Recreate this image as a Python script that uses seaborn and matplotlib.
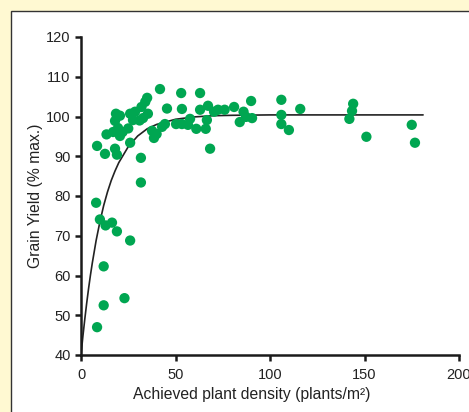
import numpy as np
import pandas as pd
import seaborn as sns
import matplotlib.pyplot as plt
from matplotlib.patches import Rectangle

# observed points (plants/m2, grain yield % max.)
density = [8.5, 12, 23, 12, 26, 19, 10, 13, 16.4, 8, 31.7, 31.7, 8.5, 12.7, 19, 18, 26,
           17, 20.6, 22, 19.6, 18, 20.6, 18.5, 27.5, 26, 28.6, 32, 34, 35, 35.4, 32.8,
           37.6, 38.6, 41.8, 42.9, 40, 44.4, 45.5, 50.3, 53, 53.4, 53.4, 56.6, 57.7, 61,
           63, 63, 67.2, 66.6, 66, 68.3, 70.4, 72.5, 76, 81, 84, 86, 87.3, 90, 90.5,
           106, 106, 106, 110, 116, 142, 143.4, 144, 151, 175, 176.7, 25, 31, 13.5]
yield_pct = [47.0, 52.5, 54.3, 62.3, 68.8, 71.1, 74.1, 72.6, 73.3, 78.3, 83.4, 89.6, 92.6,
             90.6, 90.4, 91.9, 93.4, 96.1, 95.1, 96.1, 97.1, 98.9, 100.2, 100.7, 99.1,
             100.7, 101.2, 102.4, 103.7, 104.7, 100.7, 99.6, 96.4, 94.6, 106.9, 97.4,
             95.6, 98.1, 102.0, 98.1, 105.9, 101.9, 98.1, 97.9, 99.4, 96.9, 105.9, 101.7,
             102.7, 99.1, 96.9, 91.9, 101.2, 101.7, 101.7, 102.4, 98.6, 101.2, 99.9, 103.9,
             99.6, 104.2, 100.4, 98.1, 96.6, 101.9, 99.4, 101.4, 103.2, 94.9, 97.9, 93.4,
             97.0, 99.0, 95.5]

# fitted response curve
curve_x = [0, 1, 2, 3, 4, 5, 6, 8, 10, 12, 14, 16, 18, 20, 25, 30, 35, 40, 50, 60, 70, 80,
           100, 140, 181]
curve_y = [40, 44.7, 49.0, 53.0, 56.7, 60.1, 63.2, 68.8, 73.5, 77.6, 81.0, 83.9, 86.3, 88.4,
           92.4, 95.1, 96.9, 98.0, 99.3, 99.9, 100.2, 100.3, 100.4, 100.4, 100.4]

pts = pd.DataFrame({'density': density, 'yield': yield_pct})
fit = pd.DataFrame({'density': curve_x, 'yield': curve_y})

sns.set_style('ticks')
plt.rcParams['font.family'] = ['Liberation Sans', 'DejaVu Sans']

fig = plt.figure(figsize=(4.69, 4.12), dpi=100)
fig.patch.set_facecolor('#FFF9D2')
# white panel with a dark edge on the left and top
fig.patches.append(Rectangle((11 / 469, -0.1), 1.2, 1.1 - 11 / 412, transform=fig.transFigure,
                             facecolor='white', edgecolor='#333333', linewidth=1.0, zorder=-5))
ax = fig.add_axes([81 / 469, 57 / 412, 378 / 469, 318 / 412])
ax.set_facecolor('none')

sns.lineplot(data=fit, x='density', y='yield', ax=ax, color='#222222', linewidth=1.2, zorder=2)
sns.scatterplot(data=pts, x='density', y='yield', ax=ax, color='#00A651', s=55,
                edgecolor='none', zorder=3, clip_on=False)

ax.set_xlim(0, 200)
ax.set_ylim(40, 120)
ax.set_xticks([0, 50, 100, 150, 200])
ax.set_yticks([40, 50, 60, 70, 80, 90, 100, 110, 120])
for s in ['top', 'right']:
    ax.spines[s].set_visible(False)
for s in ['left', 'bottom']:
    ax.spines[s].set_linewidth(1.8)
    ax.spines[s].set_color('#1a1a1a')
ax.tick_params(direction='out', length=4.5, width=1.8, color='#1a1a1a', labelsize=10.5,
               labelcolor='#222222', pad=3)
ax.tick_params(axis='x', pad=5)
ax.set_xlabel('Achieved plant density (plants/m²)', fontsize=11.3, color='#222222', labelpad=3)
ax.set_ylabel('Grain Yield (% max.)', fontsize=11.3, color='#222222', labelpad=2)
ax.xaxis.set_label_coords(0.452, -0.1)

fig.savefig('out.png', dpi=100, facecolor=fig.get_facecolor())
